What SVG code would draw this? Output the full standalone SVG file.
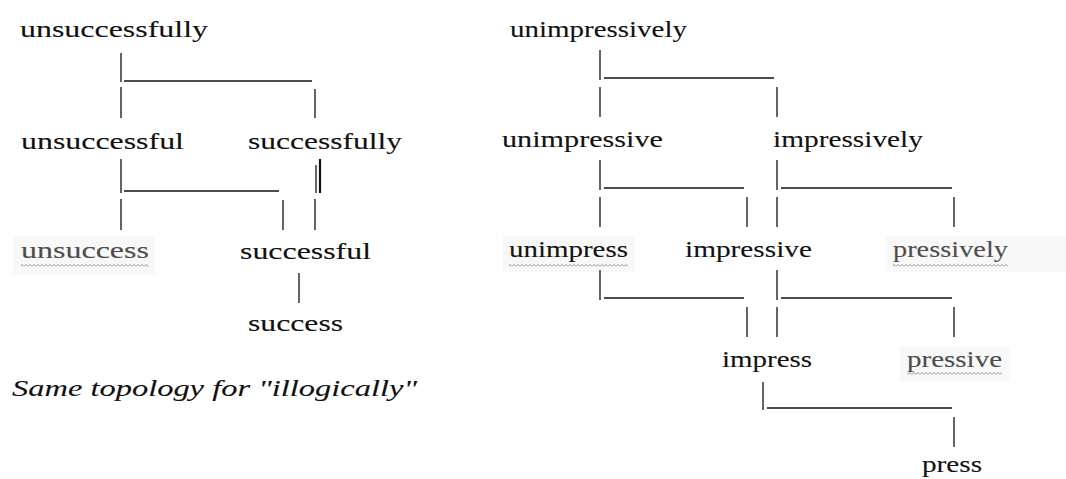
<svg xmlns="http://www.w3.org/2000/svg" width="1066" height="479" viewBox="0 0 1066 479">
  <style>
    text { font-family: "Liberation Serif", "Times New Roman", serif; font-size: 22.5px; fill: #111; stroke: #111; stroke-width: 0.1; }
    .faded { fill: #4d4d4d; stroke: #4d4d4d; }
    .note { font-style: italic; }
    .conn line { stroke: #111; stroke-width: 1.3; }
    .shade { fill: #f8f8f8; }
    .squiggle { fill: url(#squiggle); }
  </style>
  <defs>
    <pattern id="squiggle" patternUnits="userSpaceOnUse" width="4" height="3">
      <path d="M0 2.5 L2 0.5 L4 2.5" fill="none" stroke="#777" stroke-width="0.8"/>
    </pattern>
  </defs>
  <rect width="1066" height="479" fill="#ffffff"/>

  <!-- words are set in a horizontally stretched serif: translate to the baseline start, widen by 1.4 -->

  <!-- left tree: unsuccessfully -->
  <g id="n-unsuccessfully"><text transform="translate(20,37) scale(1.4,1)" textLength="134.3" lengthAdjust="spacingAndGlyphs">unsuccessfully</text></g>
  <g id="n-unsuccessful"><text transform="translate(21,149) scale(1.4,1)" textLength="116.4" lengthAdjust="spacingAndGlyphs">unsuccessful</text></g>
  <g id="n-successfully"><text transform="translate(248,149) scale(1.4,1)" textLength="110" lengthAdjust="spacingAndGlyphs">successfully</text></g>
  <g id="n-unsuccess">
    <rect class="shade" x="13" y="236" width="142" height="38"/>
    <text class="faded" transform="translate(21,258) scale(1.4,1)" textLength="91.4" lengthAdjust="spacingAndGlyphs">unsuccess</text>
    <rect class="squiggle" x="21" y="264" width="128" height="3"/>
  </g>
  <g id="n-successful"><text transform="translate(240,259) scale(1.4,1)" textLength="93.6" lengthAdjust="spacingAndGlyphs">successful</text></g>
  <g id="n-success"><text transform="translate(248,331) scale(1.4,1)" textLength="67.9" lengthAdjust="spacingAndGlyphs">success</text></g>
  <g id="caption"><text class="note" transform="translate(12,396) scale(1.4,1)" textLength="289.3" lengthAdjust="spacingAndGlyphs">Same topology for "illogically"</text></g>

  <!-- right tree: unimpressively -->
  <g id="n-unimpressively"><text transform="translate(510,37) scale(1.4,1)" textLength="126.4" lengthAdjust="spacingAndGlyphs">unimpressively</text></g>
  <g id="n-unimpressive"><text transform="translate(502,147) scale(1.4,1)" textLength="115" lengthAdjust="spacingAndGlyphs">unimpressive</text></g>
  <g id="n-impressively"><text transform="translate(773,147) scale(1.4,1)" textLength="107.1" lengthAdjust="spacingAndGlyphs">impressively</text></g>
  <g id="n-unimpress">
    <rect class="shade" x="503" y="236" width="132" height="36"/>
    <text transform="translate(509,257) scale(1.4,1)" textLength="85" lengthAdjust="spacingAndGlyphs">unimpress</text>
    <rect class="squiggle" x="509" y="264" width="119" height="3"/>
  </g>
  <g id="n-impressive"><text transform="translate(685,257) scale(1.4,1)" textLength="90.7" lengthAdjust="spacingAndGlyphs">impressive</text></g>
  <g id="n-pressively">
    <rect class="shade" x="886" y="236" width="180" height="36"/>
    <text class="faded" transform="translate(893,257) scale(1.4,1)" textLength="82.1" lengthAdjust="spacingAndGlyphs">pressively</text>
    <rect class="squiggle" x="893" y="264" width="115" height="3"/>
  </g>
  <g id="n-impress"><text transform="translate(722,367) scale(1.4,1)" textLength="64.3" lengthAdjust="spacingAndGlyphs">impress</text></g>
  <g id="n-pressive">
    <rect class="shade" x="900" y="346" width="110" height="36"/>
    <text class="faded" transform="translate(907,367) scale(1.4,1)" textLength="67.9" lengthAdjust="spacingAndGlyphs">pressive</text>
    <rect class="squiggle" x="907" y="372" width="95" height="3"/>
  </g>
  <g id="n-press"><text transform="translate(922,472) scale(1.4,1)" textLength="42.9" lengthAdjust="spacingAndGlyphs">press</text></g>

  <g id="connectors" class="conn">
    <!-- left tree -->
    <line x1="121" y1="53" x2="121" y2="82"/>
    <line x1="124" y1="81" x2="312" y2="81"/>
    <line x1="121" y1="87" x2="121" y2="118"/>
    <line x1="315" y1="89" x2="315" y2="118"/>
    <line x1="121" y1="159" x2="121" y2="193"/>
    <line x1="124" y1="191" x2="279" y2="191"/>
    <line x1="121" y1="199" x2="121" y2="230"/>
    <line x1="283" y1="200" x2="283" y2="230"/>
    <line x1="316" y1="165" x2="316" y2="193"/>
    <line x1="320" y1="159" x2="320" y2="193" style="stroke-width:2.2"/>
    <line x1="315" y1="199" x2="315" y2="230"/>
    <line x1="299" y1="273" x2="299" y2="303"/>
    <!-- right tree -->
    <line x1="600" y1="50" x2="600" y2="80"/>
    <line x1="604" y1="78" x2="774" y2="78"/>
    <line x1="600" y1="87" x2="600" y2="117"/>
    <line x1="777" y1="87" x2="777" y2="117"/>
    <line x1="600" y1="160" x2="600" y2="190"/>
    <line x1="604" y1="188" x2="744" y2="188"/>
    <line x1="600" y1="197" x2="600" y2="227"/>
    <line x1="747" y1="197" x2="747" y2="227"/>
    <line x1="777" y1="160" x2="777" y2="190"/>
    <line x1="781" y1="188" x2="952" y2="188"/>
    <line x1="777" y1="197" x2="777" y2="227"/>
    <line x1="954" y1="197" x2="954" y2="227"/>
    <line x1="600" y1="270" x2="600" y2="300"/>
    <line x1="604" y1="298" x2="744" y2="298"/>
    <line x1="747" y1="307" x2="747" y2="337"/>
    <line x1="777" y1="270" x2="777" y2="300"/>
    <line x1="781" y1="298" x2="952" y2="298"/>
    <line x1="777" y1="307" x2="777" y2="337"/>
    <line x1="954" y1="307" x2="954" y2="337"/>
    <line x1="763" y1="382" x2="763" y2="410"/>
    <line x1="767" y1="408" x2="952" y2="408"/>
    <line x1="954" y1="417" x2="954" y2="447"/>
  </g>
</svg>
